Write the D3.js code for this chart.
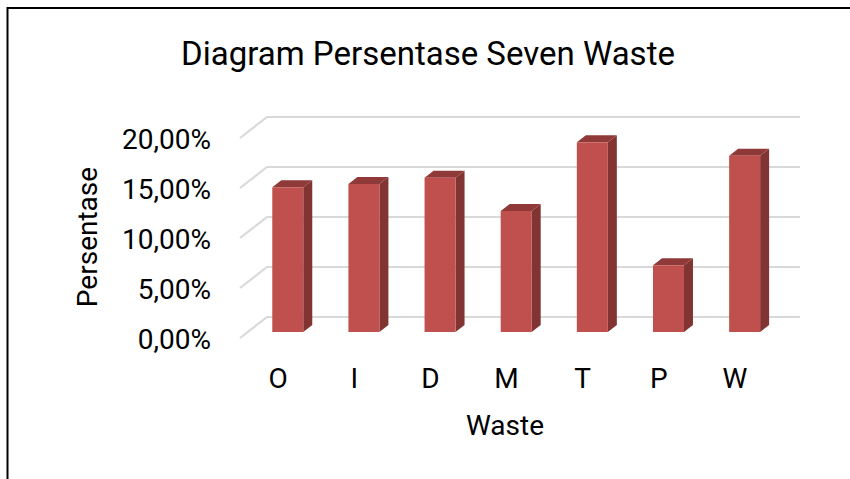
<!DOCTYPE html>
<html>
<head>
<meta charset="utf-8">
<script src="https://cdn.jsdelivr.net/npm/d3@7"></script>
<style>
  html, body { margin: 0; padding: 0; background: #fff; }
  svg { display: block; }
  text { font-family: Roboto, "Open Sans", sans-serif; fill: #000; }
</style>
</head>
<body>
<svg id="chart" width="850" height="479"></svg>
<script>
// ---- data ----
const categories = ["O", "I", "D", "M", "T", "P", "W"];
const values = [14.47, 14.80, 15.43, 12.10, 18.97, 6.67, 17.63];
const yTicks = [0, 5, 10, 15, 20];
const chartTitle = "Diagram Persentase Seven Waste";
const xTitle = "Waste";
const yTitle = "Persentase";

// ---- layout ----
const W = 850, H = 479;
const backX0 = 267, backX1 = 800;
const backY0 = 317, backY1 = 117;      // y of 0% and 20% on back wall
const depth = { dx: -27, dy: 21 };     // back wall -> front edge
const barPlane = { dx: -17.3, dy: 15 };// back wall -> bar front face
const barDepth = { dx: 9, dy: -7 };    // bar front face -> bar back face

const svg = d3.select("#chart");

// border
svg.append("path")
  .attr("d", `M7.5,${H} V8 H${W}`)
  .attr("fill", "none")
  .attr("stroke", "#000")
  .attr("stroke-width", 2);

const y = d3.scaleLinear().domain([0, 20]).range([backY0, backY1]);
const xFront = d3.scaleBand().domain(categories)
  .range([backX0 + depth.dx, backX1 + depth.dx]);
const xBar = d3.scaleBand().domain(categories)
  .range([backX0 + barPlane.dx, backX1 + barPlane.dx])
  .paddingInner(0.593).paddingOuter(0.593 / 2);

// gridlines (3D: slanted side wall + back wall)
svg.append("g").selectAll("path").data(yTicks).join("path")
  .attr("d", d => `M${backX0 + depth.dx},${y(d) + depth.dy} L${backX0},${y(d)} L${backX1},${y(d)}`)
  .attr("fill", "none")
  .attr("stroke", "#d9d9d9")
  .attr("stroke-width", 2.2);

// bars
const bw = xBar.bandwidth();
const bars = svg.append("g").selectAll("g").data(categories).join("g");
bars.each(function(c, i) {
  const g = d3.select(this);
  const x0 = xBar(c);
  const top = y(values[i]) + barPlane.dy;
  const bot = y(0) + barPlane.dy;
  // side face
  g.append("path")
    .attr("d", `M${x0 + bw},${top} L${x0 + bw + barDepth.dx},${top + barDepth.dy} L${x0 + bw + barDepth.dx},${bot + barDepth.dy} L${x0 + bw},${bot} Z`)
    .attr("fill", "#823432");
  // top face
  g.append("path")
    .attr("d", `M${x0},${top} L${x0 + barDepth.dx},${top + barDepth.dy} L${x0 + bw + barDepth.dx},${top + barDepth.dy} L${x0 + bw},${top} Z`)
    .attr("fill", "#8f3a38");
  // front face
  g.append("rect")
    .attr("x", x0).attr("y", top)
    .attr("width", bw).attr("height", bot - top)
    .attr("fill", "#c0504d");
});

// y axis labels (front edge)
const fmt = d3.formatLocale({ decimal: ",", thousands: ".", grouping: [3], currency: ["", ""] }).format(".2f");
const yAxis = svg.append("g")
  .attr("transform", `translate(211,${depth.dy})`)
  .call(d3.axisLeft(y).tickValues(yTicks).tickSize(0).tickPadding(0).tickFormat(d => fmt(d) + "%"));
yAxis.select(".domain").remove();
yAxis.selectAll("text")
  .attr("dy", "0.37em")
  .style("font-size", "28px")
  .style("font-family", "Roboto, sans-serif")
  .attr("fill", "#000");

// x axis labels
const xAxis = svg.append("g")
  .attr("transform", `translate(0,368)`)
  .call(d3.axisBottom(xFront).tickSize(0).tickPadding(0));
xAxis.select(".domain").remove();
xAxis.selectAll("text")
  .attr("y", 0)
  .attr("dy", "0.71em")
  .style("font-size", "28px")
  .style("font-family", "Roboto, sans-serif")
  .attr("fill", "#000");

// titles
svg.append("text")
  .attr("x", 428).attr("y", 65)
  .attr("text-anchor", "middle")
  .style("font-size", "33px")
  .text(chartTitle);

svg.append("text")
  .attr("x", 505).attr("y", 435)
  .attr("text-anchor", "middle")
  .style("font-size", "28px")
  .text(xTitle);

svg.append("text")
  .attr("transform", "translate(97,237) rotate(-90)")
  .attr("text-anchor", "middle")
  .style("font-size", "28px")
  .text(yTitle);
</script>
</body>
</html>
